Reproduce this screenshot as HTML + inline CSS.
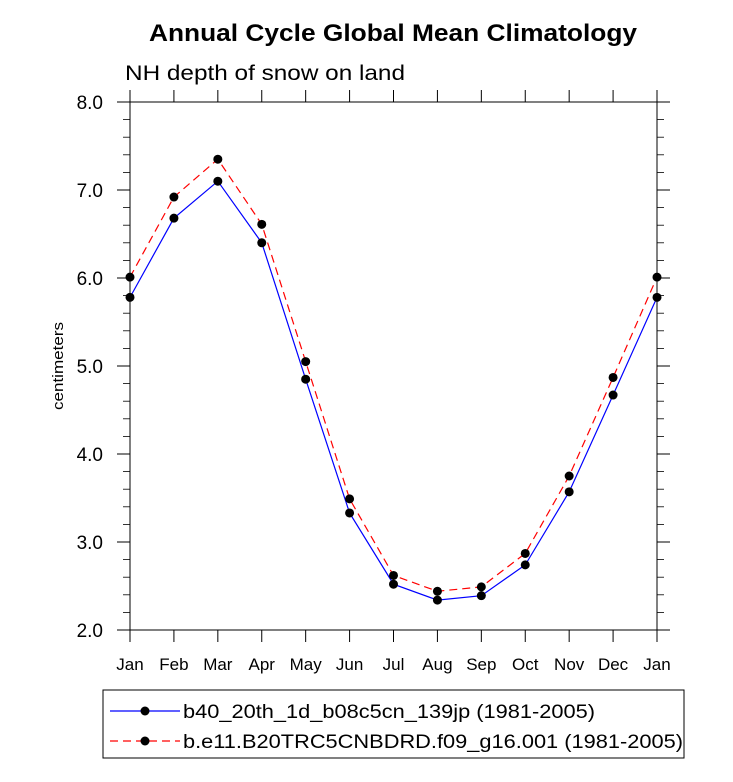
<!DOCTYPE html>
<html><head><meta charset="utf-8"><style>
body{margin:0;background:#fff;}
svg{display:block;font-family:"Liberation Sans",Arial,sans-serif;}
</style></head><body>
<svg id="chart" width="733" height="782" viewBox="0 0 733 782">
<text x="149" y="41" textLength="488" lengthAdjust="spacingAndGlyphs" font-size="24" font-weight="bold">Annual Cycle Global Mean Climatology</text>
<text x="125" y="80" textLength="280" lengthAdjust="spacingAndGlyphs" font-size="21">NH depth of snow on land</text>
<text transform="translate(63,366) rotate(-90)" x="-44" textLength="88" lengthAdjust="spacingAndGlyphs" font-size="15">centimeters</text>
<rect x="130" y="102" width="527" height="528" fill="none" stroke="#000" stroke-width="1"/>
<g id="axes"></g>
<g id="series"></g>
<rect x="103" y="690" width="581" height="68" fill="none" stroke="#000" stroke-width="1"/>
<g>
<line x1="110" y1="711" x2="180" y2="711" stroke="#0000ff" stroke-width="1.2"/>
<circle cx="145" cy="711" r="4.5" fill="#000"/>
<text x="183" y="718" textLength="412" lengthAdjust="spacingAndGlyphs" font-size="19">b40_20th_1d_b08c5cn_139jp (1981-2005)</text>
</g>
<g>
<line x1="110" y1="741" x2="180" y2="741" stroke="#ff0000" stroke-width="1.2" stroke-dasharray="8,5"/>
<circle cx="145" cy="741" r="4.5" fill="#000"/>
<text x="183" y="748" textLength="500" lengthAdjust="spacingAndGlyphs" font-size="19">b.e11.B20TRC5CNBDRD.f09_g16.001 (1981-2005)</text>
</g>
</svg>
<script>
const months = ["Jan","Feb","Mar","Apr","May","Jun","Jul","Aug","Sep","Oct","Nov","Dec","Jan"];
const blueValues = [5.78,6.68,7.10,6.40,4.85,3.33,2.52,2.34,2.39,2.74,3.57,4.67,5.78];
const redValues = [6.01,6.92,7.35,6.61,5.05,3.49,2.62,2.44,2.49,2.87,3.75,4.87,6.01];
const yTicks = [2,3,4,5,6,7,8];
const yTickLabels = ["2.0","3.0","4.0","5.0","6.0","7.0","8.0"];

const NS="http://www.w3.org/2000/svg";
const x0=130,x1=657,y0=630,y1=102,ymin=2,ymax=8;
const xs=i=>x0+(x1-x0)*i/(months.length-1);
const ys=v=>y0-(v-ymin)/(ymax-ymin)*(y0-y1);
function mk(t,a,p){const e=document.createElementNS(NS,t);for(const k in a)e.setAttribute(k,a[k]);p.appendChild(e);return e;}
const axes=document.getElementById('axes');
months.forEach((m,i)=>{
  const x=xs(i);
  mk('line',{x1:x,y1:y0,x2:x,y2:y0+12,stroke:'#000'},axes);
  mk('line',{x1:x,y1:y1,x2:x,y2:y1-12,stroke:'#000'},axes);
  const t=mk('text',{x:x,y:670,'text-anchor':'middle','font-size':17},axes);
  t.textContent=m;
  
  
});
yTicks.forEach((v,i)=>{
  const y=ys(v);
  mk('line',{x1:x0,y1:y,x2:x0-13,y2:y,stroke:'#000'},axes);
  mk('line',{x1:x1,y1:y,x2:x1+13,y2:y,stroke:'#000'},axes);
  const t=mk('text',{x:103,y:y+7,'text-anchor':'end','font-size':19},axes);
  t.textContent=yTickLabels[i];
  
  
});
for(let v=ymin;v<=ymax+1e-9;v+=0.2){
  const y=ys(v);
  mk('line',{x1:x0,y1:y,x2:x0-7,y2:y,stroke:'#000','stroke-width':0.8},axes);
  mk('line',{x1:x1,y1:y,x2:x1+7,y2:y,stroke:'#000','stroke-width':0.8},axes);
}
const sg=document.getElementById('series');
function series(vals,color,dash,name){
  const g=mk('g',{},sg);
  
  
  const pts=vals.map((v,i)=>xs(i)+','+ys(v)).join(' ');
  const a={points:pts,fill:'none',stroke:color,'stroke-width':1.2};
  if(dash)a['stroke-dasharray']=dash;
  mk('polyline',a,g);
  vals.forEach((v,i)=>{
    const c=mk('circle',{cx:xs(i),cy:ys(v),r:4.5,fill:'#000'},g);
    
    
  });
}
series(blueValues,'#0000ff',null,'series-b40');
series(redValues,'#ff0000','8,5','series-b-e11');
</script>
</body></html>
